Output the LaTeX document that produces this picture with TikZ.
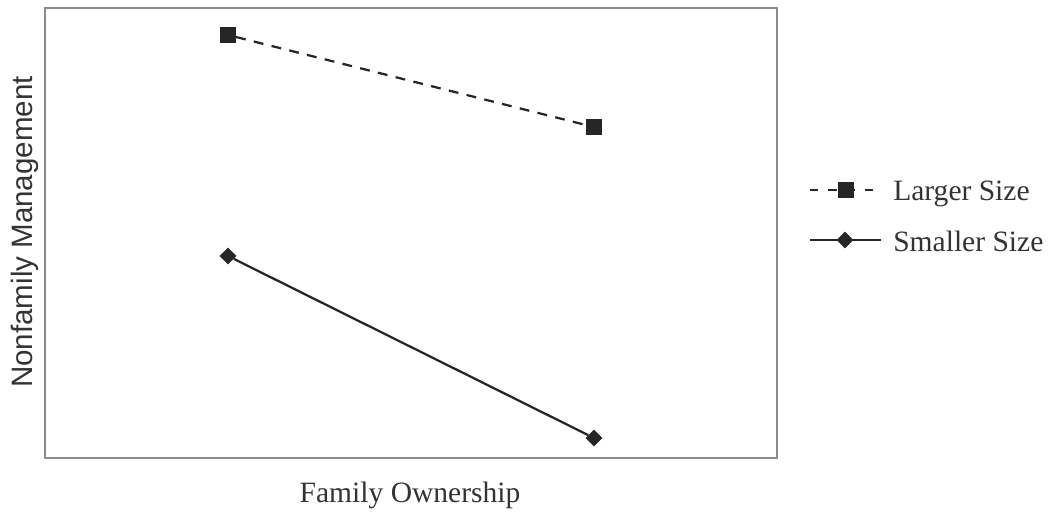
\documentclass[tikz,border=0pt]{standalone}
\usepackage{fontspec}
\setmainfont{Liberation Serif}
\setsansfont{Liberation Sans}
\usetikzlibrary{shapes.geometric}

\begin{document}
\begin{tikzpicture}[x=0.025cm,y=-0.025cm,
  sqmark/.style={fill=black!85,draw=none,minimum size=0.39cm,inner sep=0pt},
  dmmark/.style={diamond,fill=black!85,draw=none,minimum size=0.42cm,inner sep=0pt},
  dashline/.style={draw=black!85,line width=1.6pt,dash pattern=on 7pt off 6pt},
  solidline/.style={draw=black!85,line width=1.6pt},
  lgdtext/.style={font=\fontsize{21}{25}\selectfont,anchor=base west,inner sep=0pt,text=black!80}]
\useasboundingbox (0,0) rectangle (1052,512);
\draw[black!45,line width=1.4pt] (45,8) rectangle (777,458);

\node[sqmark] (lg1) at (228,35) {};
\node[sqmark] (lg2) at (594,127) {};
\node[dmmark] (sm1) at (228,256) {};
\node[dmmark] (sm2) at (594,438) {};
\draw[dashline] (lg1) -- (lg2);
\draw[solidline] (sm1) -- (sm2);

\coordinate (la) at (810,190);
\coordinate (lb) at (881,190);
\draw[dashline,dash pattern=on 6pt off 7pt] (la) -- (lb);
\node[sqmark] (lgkey) at (846,190) {};
\node[lgdtext] (lgtxt) at (893,200) {Larger Size};

\coordinate (sa) at (810,240);
\coordinate (sb) at (881,240);
\draw[solidline] (sa) -- (sb);
\node[dmmark] (smkey) at (845,240) {};
\node[lgdtext] (smtxt) at (893,251) {Smaller Size};

\node[font=\sffamily\fontsize{21}{25}\selectfont,rotate=90,text=black!80] (ylab) at (25,232) {Nonfamily Management};
\node[font=\fontsize{21}{25}\selectfont,anchor=base,text=black!80,inner sep=0pt] (xlab) at (410,502) {Family Ownership};
\end{tikzpicture}
\end{document}
